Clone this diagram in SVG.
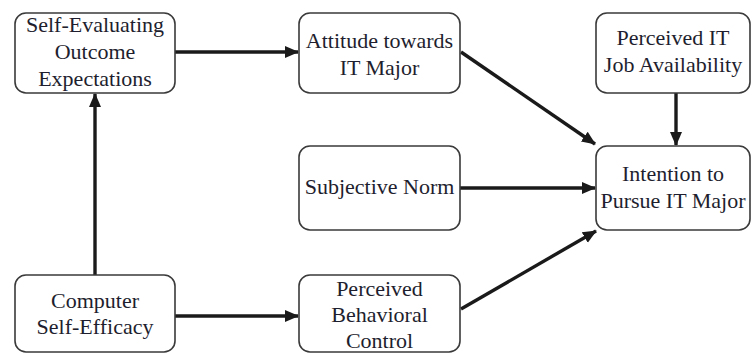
<svg xmlns="http://www.w3.org/2000/svg" width="752" height="354" viewBox="0 0 752 354">
  <style>
    .box { fill: #ffffff; stroke: #3a3a3a; stroke-width: 1.6; }
    .label { font-family: "Liberation Serif", "Times New Roman", serif; font-size: 22px; fill: #1e1e2e; text-anchor: middle; }
    .edge { stroke: #1a1a1a; stroke-width: 3.4; fill: none; marker-end: url(#head); }
  </style>
  <defs>
    <marker id="head" markerUnits="userSpaceOnUse" markerWidth="14" markerHeight="14" viewBox="0 0 14 14" refX="13" refY="7" orient="auto">
      <path d="M0,1 L14,7 L0,13 Z" fill="#1a1a1a"/>
    </marker>
  </defs>

  <rect width="752" height="354" fill="#ffffff"/>

  <g id="connectors">
    <line class="edge" x1="175" y1="52" x2="298" y2="52"/>
    <line class="edge" x1="95" y1="275" x2="95" y2="94"/>
    <line class="edge" x1="175" y1="316" x2="298" y2="316"/>
    <line class="edge" x1="461" y1="52" x2="595" y2="144"/>
    <line class="edge" x1="676" y1="93" x2="676" y2="145"/>
    <line class="edge" x1="460" y1="188" x2="595" y2="188"/>
    <line class="edge" x1="461" y1="309" x2="596" y2="231"/>
  </g>

  <g id="self-evaluating-outcome-expectations">
    <rect class="box" x="15" y="13" width="160" height="80" rx="11"/>
    <text class="label" x="95" y="32">Self-Evaluating</text>
    <text class="label" x="95" y="59">Outcome</text>
    <text class="label" x="95" y="85.5">Expectations</text>
  </g>

  <g id="attitude-towards-it-major">
    <rect class="box" x="299" y="13" width="161" height="80" rx="11"/>
    <text class="label" x="379.5" y="48">Attitude towards</text>
    <text class="label" x="379.5" y="75">IT Major</text>
  </g>

  <g id="perceived-it-job-availability">
    <rect class="box" x="596" y="13" width="154" height="80" rx="11"/>
    <text class="label" x="673" y="45">Perceived IT</text>
    <text class="label" x="673" y="72">Job Availability</text>
  </g>

  <g id="subjective-norm">
    <rect class="box" x="299" y="146" width="161" height="84" rx="11"/>
    <text class="label" x="379.5" y="194">Subjective Norm</text>
  </g>

  <g id="intention-to-pursue-it-major">
    <rect class="box" x="596" y="146" width="154" height="84" rx="11"/>
    <text class="label" x="673" y="181">Intention to</text>
    <text class="label" x="673" y="208">Pursue IT Major</text>
  </g>

  <g id="computer-self-efficacy">
    <rect class="box" x="15" y="275" width="160" height="77" rx="11"/>
    <text class="label" x="95" y="308">Computer</text>
    <text class="label" x="95" y="334">Self-Efficacy</text>
  </g>

  <g id="perceived-behavioral-control">
    <rect class="box" x="299" y="275" width="161" height="77" rx="11"/>
    <text class="label" x="379.5" y="296">Perceived</text>
    <text class="label" x="379.5" y="322">Behavioral</text>
    <text class="label" x="379.5" y="348">Control</text>
  </g>
</svg>
